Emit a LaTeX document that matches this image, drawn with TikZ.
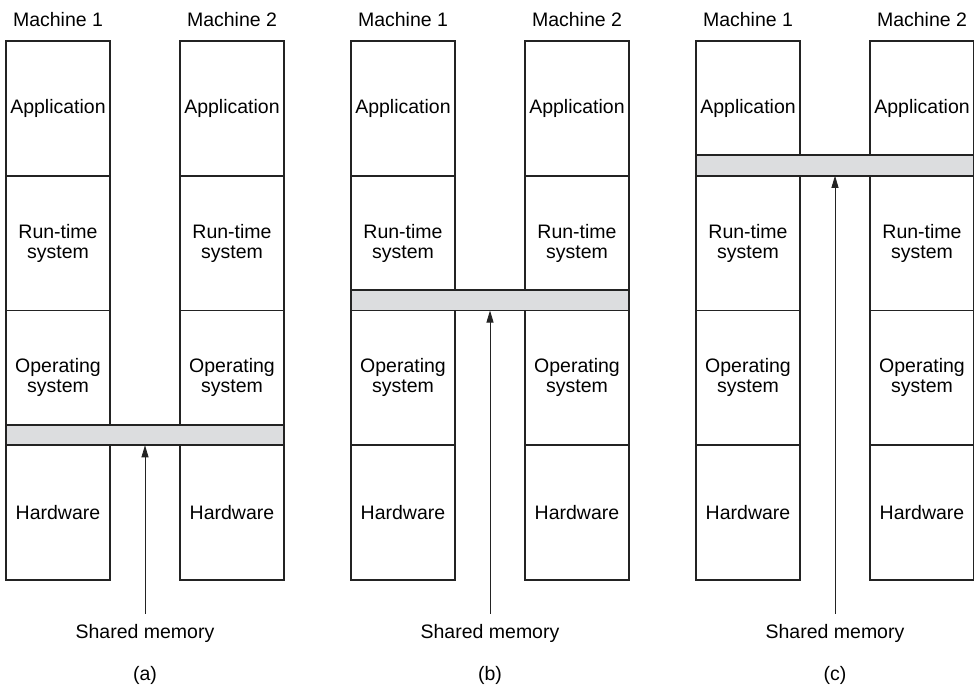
\documentclass[tikz,border=0pt]{standalone}
\usepackage{fontspec}
\setmainfont{Liberation Sans}
\usepackage{xcolor}
\usepackage{tikz}
\usetikzlibrary{arrows.meta,positioning,calc}
\definecolor{memgray}{RGB}{220,221,223}
\definecolor{boxline}{RGB}{35,35,35}
\tikzset{layer/.style={rectangle, draw=boxline, line width=1.6pt, minimum width=104pt, minimum height=134.75pt, inner sep=0pt, outer sep=0pt, align=center}, membar/.style={rectangle, draw=boxline, line width=1.6pt, fill=memgray, minimum width=278pt, minimum height=20.5pt, inner sep=0pt, outer sep=0pt}, arrow/.style={-{Triangle[length=12pt,width=7pt]}, line width=0.8pt, draw=boxline}, caption/.style={inner sep=0pt, outer sep=0pt}}

\begin{document}
\begin{tikzpicture}[x=1pt, y=-1pt, font=\fontsize{19.5}{20}\selectfont]
\useasboundingbox (0,0) rectangle (974,688);
% (a) shared memory at the hardware level
\node[layer] (appA1) at (58,108.4) {Application};
\node[layer, below=0pt of appA1] (rtsA1) {Run-time\\system};
\node[layer, below=0pt of rtsA1] (osA1) {Operating\\system};
\node[layer, below=0pt of osA1] (hwA1) {Hardware};
\node[layer, right=70pt of appA1] (appA2) {Application};
\node[layer, below=0pt of appA2] (rtsA2) {Run-time\\system};
\node[layer, below=0pt of rtsA2] (osA2) {Operating\\system};
\node[layer, below=0pt of osA2] (hwA2) {Hardware};
\node[caption, above=14pt of appA1] (macA1) {Machine 1};
\node[caption, above=14pt of appA2] (macA2) {Machine 2};
\node[membar, anchor=south] (busA) at ($(hwA1.north west)!.5!(hwA2.north east)$) {};
\node[caption] (shmA) at (145,633) {Shared memory};
\node[caption] (capA) at (145,675) {(a)};
\draw[arrow, shorten <=10pt] (shmA) -- (busA);
% (b) shared memory at the operating system level
\node[layer] (appB1) at (403,108.4) {Application};
\node[layer, below=0pt of appB1] (rtsB1) {Run-time\\system};
\node[layer, below=0pt of rtsB1] (osB1) {Operating\\system};
\node[layer, below=0pt of osB1] (hwB1) {Hardware};
\node[layer, right=70pt of appB1] (appB2) {Application};
\node[layer, below=0pt of appB2] (rtsB2) {Run-time\\system};
\node[layer, below=0pt of rtsB2] (osB2) {Operating\\system};
\node[layer, below=0pt of osB2] (hwB2) {Hardware};
\node[caption, above=14pt of appB1] (macB1) {Machine 1};
\node[caption, above=14pt of appB2] (macB2) {Machine 2};
\node[membar, anchor=south] (busB) at ($(osB1.north west)!.5!(osB2.north east)$) {};
\node[caption] (shmB) at (490,633) {Shared memory};
\node[caption] (capB) at (490,675) {(b)};
\draw[arrow, shorten <=10pt] (shmB) -- (busB);
% (c) shared memory at the run-time level
\node[layer] (appC1) at (748,108.4) {Application};
\node[layer, below=0pt of appC1] (rtsC1) {Run-time\\system};
\node[layer, below=0pt of rtsC1] (osC1) {Operating\\system};
\node[layer, below=0pt of osC1] (hwC1) {Hardware};
\node[layer, right=70pt of appC1] (appC2) {Application};
\node[layer, below=0pt of appC2] (rtsC2) {Run-time\\system};
\node[layer, below=0pt of rtsC2] (osC2) {Operating\\system};
\node[layer, below=0pt of osC2] (hwC2) {Hardware};
\node[caption, above=14pt of appC1] (macC1) {Machine 1};
\node[caption, above=14pt of appC2] (macC2) {Machine 2};
\node[membar, anchor=south] (busC) at ($(rtsC1.north west)!.5!(rtsC2.north east)$) {};
\node[caption] (shmC) at (835,633) {Shared memory};
\node[caption] (capC) at (835,675) {(c)};
\draw[arrow, shorten <=10pt] (shmC) -- (busC);
\end{tikzpicture}
\end{document}
